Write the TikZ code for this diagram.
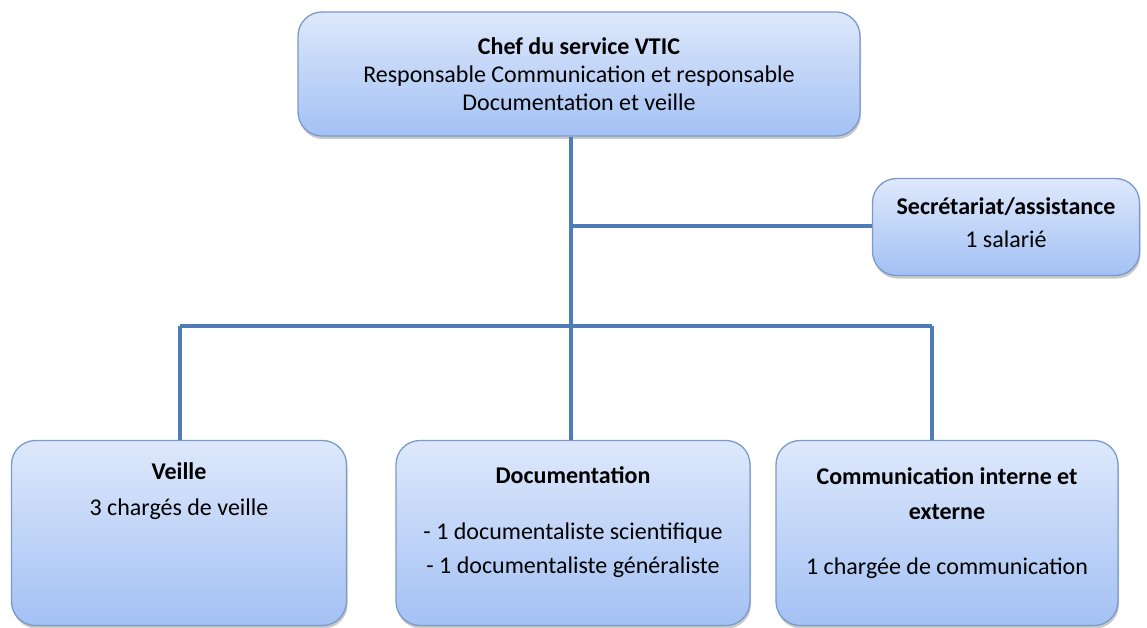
\documentclass[tikz,border=0pt]{standalone}
\usepackage{fontspec}
\setmainfont{Carlito}
\usetikzlibrary{shadows}

\definecolor{boxtop}{RGB}{222,232,251}
\definecolor{boxbot}{RGB}{163,193,244}
\definecolor{boxline}{RGB}{122,154,204}
\definecolor{linkblue}{RGB}{79,124,182}

\tikzset{
    unit/.style={draw=boxline, line width=1.3pt, rounded corners=24pt,
        top color=boxtop, bottom color=boxbot, inner sep=0pt,
        drop shadow={shadow xshift=1pt, shadow yshift=-3pt, opacity=0.3, fill=black!70}},
    link/.style={draw=linkblue, line width=3.5pt},
    txt/.style={inner sep=0pt, align=center, font=\fontsize{24}{28}\selectfont},
}

\begin{document}
\begin{tikzpicture}[x=1pt, y=-1pt]
                \useasboundingbox (0,0) rectangle (1147,628);

                \node[unit, minimum width=562pt, minimum height=124pt] (chef) at (579,74) {};
                \node[unit, minimum width=267pt, minimum height=97pt] (secr) at (1006,227) {};
                \node[unit, minimum width=335pt, minimum height=185pt] (veille) at (179,533) {};
                \node[unit, minimum width=354pt, minimum height=185pt] (doc) at (573,533) {};
                \node[unit, minimum width=342pt, minimum height=185pt] (comm) at (947,533) {};

                % junction points of the connectors
                \coordinate (sec) at (571,226);
                \coordinate (hub) at (571,326);
                \coordinate (hubL) at (180,326);
                \coordinate (hubR) at (932,326);

                \draw[link] (chef.south -| hub) -- (hub);
                \draw[link] (hubL) -- (hubR);
                \draw[link] (sec) -- (secr.west |- sec);
                \foreach \b/\c in {veille/hubL, doc/hub, comm/hubR}
                    \draw[link] (\c) -- (\b.north -| \c);

                \node[txt] (chefT) at (chef) {\textbf{Chef du service VTIC}\\Responsable Communication et responsable\\Documentation et veille};
                \node[txt] (secrT) at (1006,223) {\textbf{Secrétariat/assistance}\\[5pt]1 salarié};
                \node[txt] (veilleT) at (179,491) {\textbf{Veille}\\[8pt]3 chargés de veille};
                \node[txt] (docT) at (573,522) {\textbf{Documentation}\\[28pt]- 1 documentaliste scientifique\\[6pt]- 1 documentaliste généraliste};
                \node[txt] (commT) at (947,523) {\textbf{Communication interne et}\\[7pt]\textbf{externe}\\[27pt]1 chargée de communication};
            \end{tikzpicture}
\end{document}
